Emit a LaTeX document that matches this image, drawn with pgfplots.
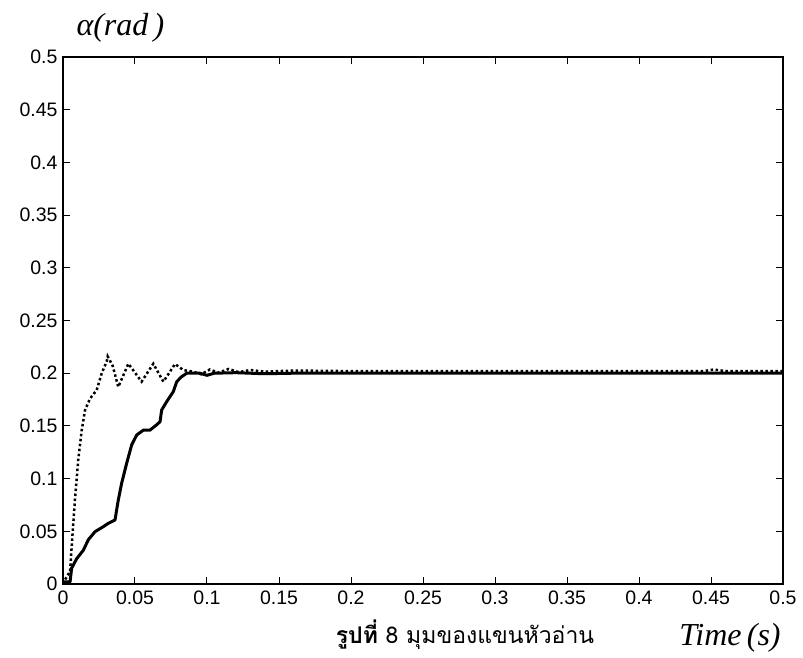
\documentclass[border=0pt]{standalone}
\usepackage{fontspec}
\setmainfont{Liberation Sans}
\newfontfamily\tms{Liberation Serif}
\newfontfamily\thai[Script=Thai]{Loma}
\usepackage{pgfplots}
\pgfplotsset{compat=1.18}

% step response, faster (dotted) and slower (solid)
\pgfplotstableread{
x y
0 0
0.0014 0.004
0.0049 0.012
0.006 0.035
0.0083 0.08
0.0106 0.118
0.013 0.146
0.0153 0.165
0.0188 0.176
0.0234 0.184
0.0269 0.2
0.0303 0.211
0.031 0.216
0.0345 0.207
0.0384 0.187
0.0454 0.209
0.0546 0.192
0.0627 0.209
0.0697 0.192
0.0778 0.2087
0.0836 0.203
0.0905 0.2014
0.096 0.199
0.102 0.2035
0.108 0.2005
0.115 0.204
0.122 0.201
0.13 0.203
0.14 0.2015
0.16 0.2025
0.2 0.202
0.3 0.202
0.445 0.202
0.452 0.2035
0.46 0.202
0.5 0.202
}\dotted

\pgfplotstableread{
x y
0 0.002
0.0049 0.002
0.006 0.015
0.0095 0.024
0.0141 0.032
0.0176 0.042
0.0222 0.0496
0.028 0.0544
0.0315 0.0576
0.0361 0.0607
0.0384 0.0797
0.0407 0.0955
0.0442 0.1145
0.0477 0.132
0.0512 0.1414
0.0558 0.146
0.0604 0.146
0.065 0.151
0.0674 0.154
0.0685 0.165
0.072 0.173
0.0766 0.1825
0.079 0.192
0.0824 0.1967
0.0859 0.2
0.095 0.2
0.1 0.198
0.105 0.2
0.12 0.2005
0.14 0.1995
0.16 0.2
0.5 0.2
}\solid

\begin{document}
\begin{tikzpicture}
\useasboundingbox (-63pt,-73pt) rectangle (740pt,584pt);
\begin{axis}[
    at={(0,0)}, anchor=south west,
    scale only axis,
    width=720pt, height=527pt,
    xmin=0, xmax=0.5, ymin=0, ymax=0.5,
    xtick={0,0.05,0.1,0.15,0.2,0.25,0.3,0.35,0.4,0.45,0.5},
    xticklabels={0,0.05,0.1,0.15,0.2,0.25,0.3,0.35,0.4,0.45,0.5},
    ytick={0,0.05,0.1,0.15,0.2,0.25,0.3,0.35,0.4,0.45,0.5},
    yticklabels={0,0.05,0.1,0.15,0.2,0.25,0.3,0.35,0.4,0.45,0.5},
    tick align=inside,
    xtick pos=both, ytick pos=both,
    major tick length=7pt,
    axis line style={line width=1.2pt},
    tick style={line width=1pt, black},
    ticklabel style={font=\fontsize{19.5}{20}\selectfont},
    xticklabel style={yshift=-3pt},
    yticklabel style={xshift=-2pt},
]
\addplot[black, line width=2.5pt, dash pattern=on 2.5pt off 2.5pt] table[x=x,y=y] {\dotted};
\addplot[black, line width=3pt, line join=round] table[x=x,y=y] {\solid};
\end{axis}
\node[anchor=west, font=\tms\itshape\fontsize{32}{34}\selectfont] at (10pt,556pt) {α(rad\,)};
\node[anchor=base, font=\fontsize{23}{26}\selectfont] at (402pt,-59pt) {\thai\textbf{รูปที่} 8 มุมของแขนหัวอ่าน};
\node[anchor=base, font=\tms\itshape\fontsize{32}{34}\selectfont] at (667pt,-61pt) {Time\,(s)};
\end{tikzpicture}
\end{document}
